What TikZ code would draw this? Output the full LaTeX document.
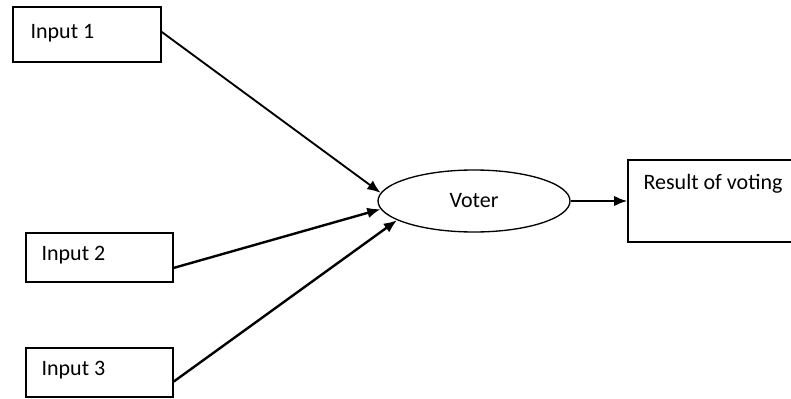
\documentclass[tikz,border=0pt]{standalone}
\usepackage{fontspec}
\setmainfont{Carlito}
\usetikzlibrary{arrows.meta,shapes.geometric}
\begin{document}
\begin{tikzpicture}[x=0.75pt, y=-0.75pt,
    box/.style={rectangle, draw, line width=1pt, minimum width=110.25pt, minimum height=36.75pt},
    txt/.style={anchor=north west, inner sep=0pt, font=\fontsize{16.5}{19}\selectfont},
    feed/.style={-{Latex[length=10pt,width=8pt]}, line width=1.8pt}]
      \useasboundingbox (0,0) rectangle (791,399);

      \node[box, minimum height=41.25pt, minimum width=111pt] (in1) at (87, 34.5) {};
      \node[box] (in2) at (99.5, 257.5) {};
      \node[box] (in3) at (99.5, 372.5) {};
      \node[ellipse, draw, line width=1pt, minimum width=144pt, minimum height=46.5pt,
            font=\fontsize{16.5}{19}\selectfont] (voter) at (474, 201) {Voter};
      \node[box, minimum width=135pt, minimum height=61.5pt] (result) at (718, 201) {};

      \node[txt] (t1) at ([shift={(18,18)}]in1.north west) {Input 1};
      \node[txt] (t2) at ([shift={(16,14)}]in2.north west) {Input 2};
      \node[txt] (t3) at ([shift={(16,14)}]in3.north west) {Input 3};
      \node[txt] (t4) at ([shift={(16,15)}]result.north west) {Result of voting};

      \draw[feed, line width=1.4pt] (in1.2) -- (voter.175);
      \draw[feed] (in2.-8) -- (voter.185);
      \draw[feed] (in3.-7) -- (voter.194);
      \draw[feed] (voter.east) -- (voter.east -| result.west);
    \end{tikzpicture}
\end{document}
